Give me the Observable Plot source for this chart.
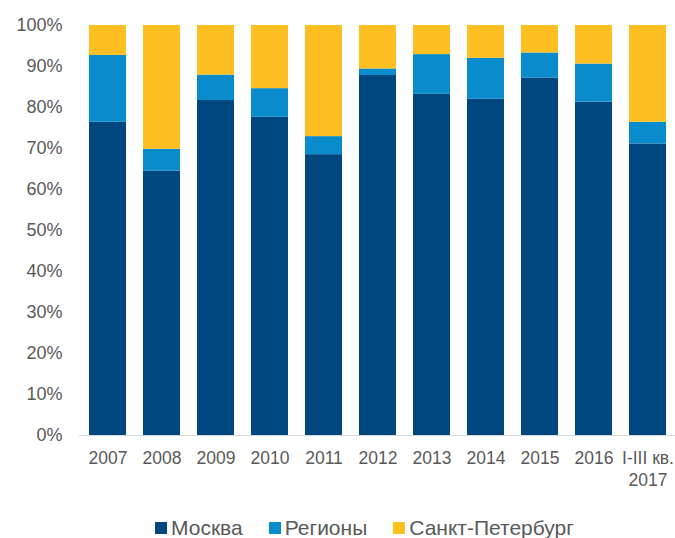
<!DOCTYPE html>
<html>
<head>
<meta charset="utf-8">
<script src="https://cdn.jsdelivr.net/npm/d3@7"></script>
<script src="https://cdn.jsdelivr.net/npm/@observablehq/plot@0.6"></script>
<style>
  html, body { margin: 0; padding: 0; background: #fff; }
  body { width: 675px; height: 538px; overflow: hidden; font-family: "Liberation Sans", Arial, sans-serif; }
  #legend { display: flex; justify-content: flex-start; align-items: center; margin-top: 16px; height: 24px; font-size: 21px; color: #595959; padding-left: 155px; }
  .item { display: flex; align-items: center; margin-right: 26px; }
  .sw { width: 12px; height: 12px; margin-right: 4px; }
</style>
</head>
<body>
<div id="chart"></div>
<div id="legend"></div>
<script>
const categories = ["2007","2008","2009","2010","2011","2012","2013","2014","2015","2016","I-III кв.\n2017"];
const seriesNames = ["Москва","Регионы","Санкт-Петербург"];
const moscow  = [76.4, 64.5, 81.7, 77.6, 68.5, 87.8, 83.2, 82.0, 87.2, 81.3, 71.1];
const regions = [16.3,  5.3,  6.2,  7.0,  4.4,  1.6,  9.7, 10.0,  6.1,  9.3,  5.3];
const spb     = [ 7.3, 30.2, 12.1, 15.4, 27.1, 10.6,  7.1,  8.0,  6.7,  9.4, 23.6];
const colors  = ["#00467f", "#0a8ccc", "#fdbf21"];
const yTicks  = [0,10,20,30,40,50,60,70,80,90,100];

const rows = [];
categories.forEach((c, i) => {
  rows.push({cat: c, series: seriesNames[0], value: moscow[i]});
  rows.push({cat: c, series: seriesNames[1], value: regions[i]});
  rows.push({cat: c, series: seriesNames[2], value: spb[i]});
});

const chart = Plot.plot({
  width: 675,
  height: 500,
  marginLeft: 79,
  marginRight: 0,
  marginTop: 25,
  marginBottom: 65,
  style: {fontFamily: '"Liberation Sans", Arial, sans-serif', color: "#595959", background: "#fff"},
  x: {domain: categories, paddingInner: 0.32, paddingOuter: 0.16, label: null},
  y: {domain: [0, 100], label: null},
  color: {domain: seriesNames, range: colors},
  marks: [
    Plot.ruleY([0], {stroke: "#d9d9d9", strokeWidth: 1}),
    Plot.barY(rows, {x: "cat", y: "value", fill: "series", z: "series"}),
    Plot.axisY({ticks: yTicks, tickSize: 0, tickPadding: 17, tickFormat: d => d + "%", fontSize: 18, label: null}),
    Plot.axisX({tickSize: 0, tickPadding: 12, fontSize: 17.5, lineHeight: 1.3, label: null})
  ]
});
document.getElementById("chart").appendChild(chart);

const legend = document.getElementById("legend");
seriesNames.forEach((name, i) => {
  const item = document.createElement("div");
  item.className = "item";
  const sw = document.createElement("span");
  sw.className = "sw";
  sw.style.background = colors[i];
  const t = document.createElement("span");
  t.textContent = name;
  item.appendChild(sw);
  item.appendChild(t);
  legend.appendChild(item);
});
</script>
</body>
</html>
